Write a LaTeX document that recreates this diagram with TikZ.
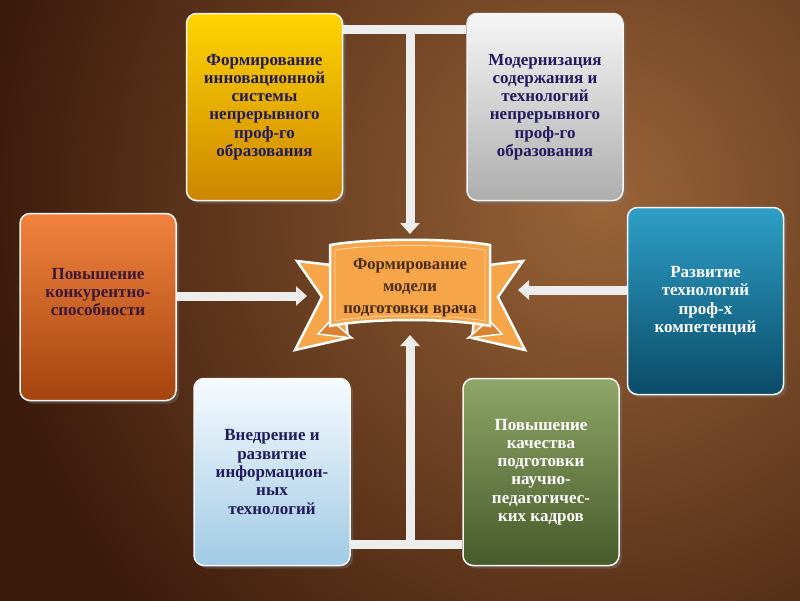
\documentclass[tikz,border=0pt]{standalone}
\usepackage{fontspec}
\setmainfont{Liberation Serif}
\usetikzlibrary{arrows.meta,shadows,calc}
\definecolor{bglight}{HTML}{9A6438}
\definecolor{bgdark}{HTML}{3A1A0B}
\definecolor{yelT}{HTML}{FFD400}
\definecolor{yelB}{HTML}{CC8600}
\definecolor{grayT}{HTML}{F6F6F6}
\definecolor{grayB}{HTML}{ADADAD}
\definecolor{orgT}{HTML}{F2823E}
\definecolor{orgB}{HTML}{A4440E}
\definecolor{bluT}{HTML}{2E9FC6}
\definecolor{bluB}{HTML}{0A4B68}
\definecolor{lblT}{HTML}{F6FBFF}
\definecolor{lblB}{HTML}{A0CAE4}
\definecolor{olvT}{HTML}{8EA667}
\definecolor{olvB}{HTML}{475A2A}
\definecolor{navy}{HTML}{221A5E}
\definecolor{maroon}{HTML}{3A1838}
\definecolor{banfill}{HTML}{F6A548}
\definecolor{banfold}{HTML}{D98332}
\definecolor{bantext}{HTML}{4A2A1A}
\definecolor{barc}{HTML}{EDEDED}
\begin{document}
\begin{tikzpicture}[x=1pt,y=-1pt,
  card/.style={rounded corners=10pt, draw=white!92!gray, line width=1.5pt,
    minimum width=156pt, minimum height=187pt, align=center, inner sep=0pt,
    font=\fontsize{17}{18.3}\selectfont\bfseries,
    drop shadow={opacity=0.35,shadow xshift=3pt,shadow yshift=-3pt}},
  cardtext/.style={align=center, inner sep=0pt, font=\fontsize{17}{18.3}\selectfont\bfseries},
  bar/.style={line width=9pt, draw=barc},
  arr/.style={line width=9pt, draw=barc, -{Triangle[width=19pt,length=11pt]}},
  ribbon/.style={fill=banfill, draw=white, line width=2.5pt, line join=miter}
]
\useasboundingbox (0,0) rectangle (800,600);
% background
\begin{scope}
\clip (0,0) rectangle (800,600);
\fill[bgdark] (0,0) rectangle (800,600);
\shade[inner color=bglight, outer color=bgdark] (-20,-420) rectangle (1220,820);
\end{scope}

% cards
\node[card, top color=yelT, bottom color=yelB, text=navy] (yel) at (264.5,107)
  {Формирование\\инновационной\\системы\\непрерывного\\проф-го\\образования};
\node[card, top color=grayT, bottom color=grayB, text=navy] (gray) at (545,107)
  {Модернизация\\содержания и\\технологий\\непрерывного\\проф-го\\образования};
\node[card, top color=orgT, bottom color=orgB] (org) at (98,307) {};
\node[cardtext, text=maroon] (orgtxt) at ($(org.center)+(0,-15)$)
  {Повышение\\конкурентно-\\способности};
\node[card, top color=bluT, bottom color=bluB, text=white] (blu) at (705.5,301)
  {Развитие\\технологий\\проф-х\\компетенций};
\node[card, top color=lblT, bottom color=lblB, text=navy] (lbl) at (272,472)
  {Внедрение и\\развитие\\информацион-\\ных\\технологий};
\node[card, top color=olvT, bottom color=olvB, text=white] (olv) at (541,472)
  {Повышение\\качества\\подготовки\\научно-\\педагогичес-\\ких кадров};

% banner
\path[ribbon] (340,266) -- (297,261) -- (322,297) -- (295,350) -- (348,338) -- cycle;
\path[ribbon] (480,266) -- (523,261) -- (498,297) -- (525,350) -- (472,338) -- cycle;
\path[fill=banfold, draw=white, line width=1.5pt] (331,320) -- (352,338) -- (318,334) -- cycle;
\path[fill=banfold, draw=white, line width=1.5pt] (489,320) -- (468,338) -- (502,334) -- cycle;
\path[ribbon] (330,245) .. controls (370,238) and (450,238) .. (490,245)
  -- (490,326) .. controls (450,318) and (370,318) .. (330,326) -- cycle;
\draw[white!55!banfill, line width=0.8pt] (335,250) .. controls (372,244) and (448,244) .. (485,250)
  -- (485,321) .. controls (448,314) and (372,314) .. (335,321) -- cycle;
\node[align=center, inner sep=0pt, text=bantext, font=\fontsize{16.7}{22}\selectfont\bfseries]
  (ban) at (410,288) {Формирование\\модели\\подготовки врача};

% connectors
\coordinate (tj) at (410,29);
\coordinate (ttip) at (410,234);
\coordinate (bj) at (410,544);
\coordinate (btip) at (410,335);
\coordinate (ltip) at (307,296);
\coordinate (rtip) at (518,290);
\draw[bar] (yel.east |- tj) -- (gray.west |- tj);
\draw[arr] (tj) -- (ttip);
\draw[bar] (lbl.east |- bj) -- (olv.west |- bj);
\draw[arr] (bj) -- (btip);
\draw[arr] (org.east |- ltip) -- (ltip);
\draw[arr] (blu.west |- rtip) -- (rtip);
\end{tikzpicture}
\end{document}
